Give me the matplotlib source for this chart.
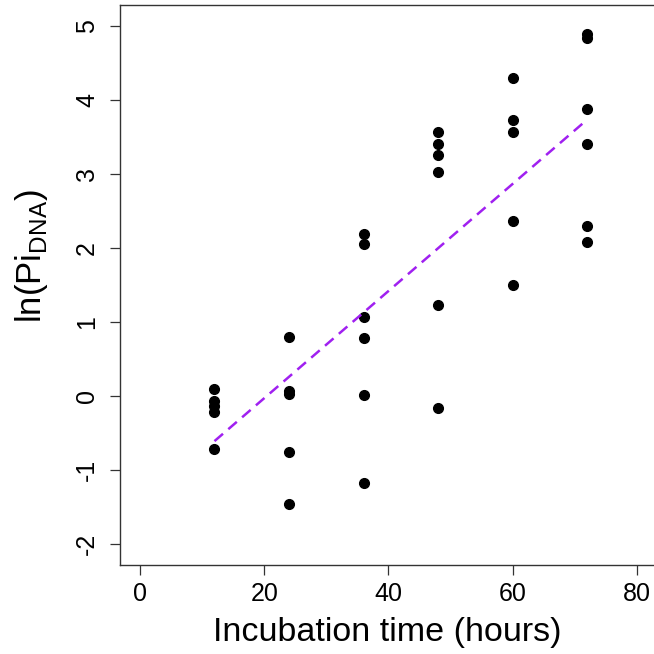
import numpy as np
import matplotlib
matplotlib.use('Agg')
import matplotlib.pyplot as plt

plt.rcParams['font.family'] = ['Liberation Sans', 'DejaVu Sans']
plt.rcParams['mathtext.fontset'] = 'custom'
plt.rcParams['mathtext.rm'] = 'Liberation Sans'

# incubation time (hours) and ln(Pi_DNA)
hours = [12, 12, 12, 12, 12,
         24, 24, 24, 24, 24,
         36, 36, 36, 36, 36, 36,
         48, 48, 48, 48, 48, 48,
         60, 60, 60, 60, 60,
         72, 72, 72, 72, 72, 72]
ln_pi = [0.10, -0.06, -0.13, -0.21, -0.71,
         0.80, 0.07, 0.03, -0.75, -1.45,
         2.19, 2.05, 1.07, 0.79, 0.02, -1.17,
         3.56, 3.40, 3.26, 3.02, 1.23, -0.16,
         4.29, 3.73, 3.57, 2.37, 1.50,
         4.89, 4.84, 3.87, 3.40, 2.29, 2.08]
x_ticks = [0, 20, 40, 60, 80]
y_ticks = [-2, -1, 0, 1, 2, 3, 4, 5]

hours = np.array(hours)
ln_pi = np.array(ln_pi)

fig = plt.figure(figsize=(6.54, 6.54), dpi=100)
ax = fig.add_axes([120 / 654, 89 / 654, 537 / 654, 560 / 654])

ax.plot(hours, ln_pi, 'o', color='black', ms=7, mec='black')

# least squares fit
slope, icpt = np.polyfit(hours, ln_pi, 1)
xs = np.array([hours.min(), hours.max()])
ax.plot(xs, icpt + slope * xs, '--', color='#A020F0', lw=1.8, dashes=(4.5, 2.8))

ax.set_xlim(-3.2, 83.2)
ax.set_ylim(-2.28, 5.28)
ax.set_xticks(x_ticks)
ax.set_yticks(y_ticks)
ax.set_xticklabels([str(t) for t in x_ticks])
ax.set_yticklabels([str(t) for t in y_ticks], rotation=90, va='center')
ax.tick_params(axis='both', direction='out', length=7, width=0.9, labelsize=18,
               color='#333333')
ax.tick_params(axis='x', pad=5)
ax.tick_params(axis='y', pad=8)
for s in ax.spines.values():
    s.set_linewidth(1.0)
    s.set_color('#333333')

fig.text(387 / 654, 1 - 632 / 654, 'Incubation time (hours)', fontsize=24.5,
         ha='center', va='center')
fig.text(31 / 654, 1 - 256 / 654, r'ln(Pi$_{\mathrm{DNA}}$)', fontsize=25,
         ha='center', va='center', rotation=90)

fig.savefig('out.png', dpi=100)
